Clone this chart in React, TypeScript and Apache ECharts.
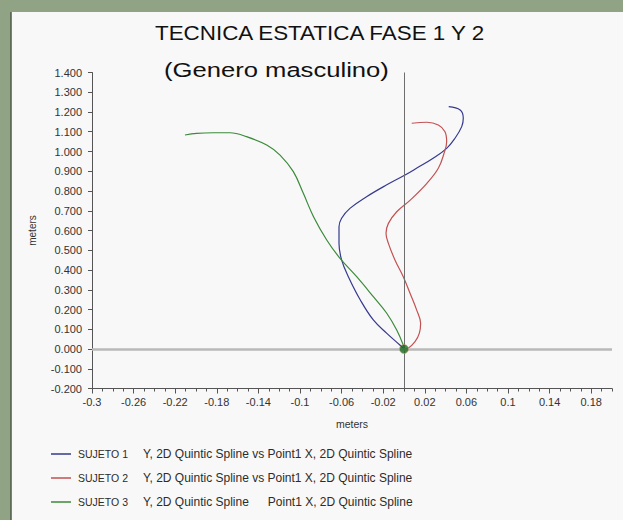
import React, { useEffect, useRef } from 'react';
import * as echarts from 'echarts';

const TITLE = 'TECNICA ESTATICA FASE 1 Y 2';
const SUBTITLE = '(Genero masculino)';
const AXIS_NAME = 'meters';

const seriesNames = ['SUJETO 1', 'SUJETO 2', 'SUJETO 3'];
const seriesColors = ['#363a8e', '#c25252', '#3b8a3b'];
const legendDesc = [
  'Y, 2D Quintic Spline vs Point1 X, 2D Quintic Spline',
  'Y, 2D Quintic Spline vs Point1 X, 2D Quintic Spline',
];
const legendDesc3a = 'Y, 2D Quintic Spline';
const legendDesc3b = 'Point1 X, 2D Quintic Spline';

const sujeto1X = [0.043, 0.054, 0.057, 0.0555, 0.049, 0.041, 0.028, 0.012, 0.001, -0.017, -0.036, -0.052, -0.06, -0.0625, -0.0625, -0.06, -0.0535, -0.042, -0.0295, -0.0165, -0.004, 0];
const sujeto1Y = [1.227, 1.21, 1.168, 1.126, 1.067, 1.016, 0.966, 0.915, 0.881, 0.83, 0.771, 0.712, 0.662, 0.619, 0.535, 0.451, 0.366, 0.248, 0.147, 0.079, 0.02, 0];

const sujeto2X = [0.0074, 0.022, 0.033, 0.0394, 0.041, 0.0385, 0.033, 0.022, 0.006, -0.007, -0.015, -0.0173, -0.015, -0.0087, -0.0007, 0.0058, 0.0122, 0.016, 0.0147, 0.0106, 0.004, 0];
const sujeto2Y = [1.143, 1.148, 1.134, 1.1, 1.05, 0.991, 0.915, 0.839, 0.754, 0.695, 0.636, 0.586, 0.535, 0.451, 0.366, 0.282, 0.197, 0.13, 0.079, 0.037, 0.004, 0];

const sujeto3X = [-0.2106, -0.1993, -0.1833, -0.1673, -0.1513, -0.132, -0.1192, -0.1064, -0.0968, -0.087, -0.0743, -0.0615, -0.0455, -0.0295, -0.0166, -0.007, -0.0007, 0];
const sujeto3Y = [1.0835, 1.092, 1.095, 1.095, 1.075, 1.033, 0.982, 0.898, 0.788, 0.67, 0.552, 0.459, 0.366, 0.265, 0.181, 0.096, 0.02, 0];

const originPoint = [0, 0];

const xTickLabels = [-0.3, -0.26, -0.22, -0.18, -0.14, -0.1, -0.06, -0.02, 0.02, 0.06, 0.1, 0.14, 0.18];
const xMin = -0.3;
const xMax = 0.2;
const xMinorStep = 0.01;
const yMin = -0.2;
const yMax = 1.4;
const yStep = 0.1;

const FONT = '"Liberation Sans", Arial, sans-serif';

function pairs(xs: number[], ys: number[]) {
  return xs.map((x, i) => [x, ys[i]]);
}

export default function App() {
  const ref = useRef<HTMLDivElement>(null);

  useEffect(() => {
    document.body.style.margin = '0';
    const chart = echarts.init(ref.current!, null, { renderer: 'svg' });
    const xs = [sujeto1X, sujeto2X, sujeto3X];
    const ys = [sujeto1Y, sujeto2Y, sujeto3Y];

    const curveSeries = seriesNames.map((name, i) => ({
      name,
      type: 'line',
      data: pairs(xs[i], ys[i]),
      smooth: 0.4,
      showSymbol: false,
      symbol: 'none',
      z: 3,
      lineStyle: { color: seriesColors[i], width: 1.2 },
      itemStyle: { color: seriesColors[i] },
    }));

    const option: any = {
      animation: false,
      backgroundColor: '#90a385',
      textStyle: { fontFamily: FONT },
      grid: { left: 92, top: 72.5, width: 520, height: 316, containLabel: false },
      graphic: [
        {
          type: 'rect',
          z: -100,
          silent: true,
          shape: { x: 11, y: 12, width: 612, height: 508 },
          style: { fill: '#f8f8f8' },
        },
        {
          type: 'line',
          z: -99,
          silent: true,
          shape: { x1: 11, y1: 12, x2: 11, y2: 520 },
          style: { stroke: '#4d5a48', lineWidth: 1.5 },
        },
        {
          type: 'text',
          x: 155,
          y: 33,
          scaleX: 1.12,
          silent: true,
          style: {
            text: TITLE,
            font: '20px ' + FONT,
            fill: '#111',
            align: 'left',
            textAlign: 'left',
            verticalAlign: 'middle',
            textVerticalAlign: 'middle',
          },
        },
        {
          type: 'text',
          x: 164,
          y: 70,
          scaleX: 1.25,
          silent: true,
          style: {
            text: SUBTITLE,
            font: '20.5px ' + FONT,
            fill: '#111',
            align: 'left',
            textAlign: 'left',
            verticalAlign: 'middle',
            textVerticalAlign: 'middle',
          },
        },
      ],
      legend: {
        orient: 'vertical',
        left: 46,
        top: 443,
        icon: 'rect',
        itemWidth: 20,
        itemHeight: 1.5,
        itemGap: 12,
        selectedMode: false,
        data: seriesNames,
        formatter: (name: string) => {
          const i = seriesNames.indexOf(name);
          if (i === 2) return `{a|${name}}{b|${legendDesc3a}}{c|${legendDesc3b}}`;
          return `{a|${name}}{b|${legendDesc[i]}}`;
        },
        textStyle: {
          fontFamily: FONT,
          color: '#2c2c2c',
          rich: {
            a: { fontSize: 10.5, width: 65, padding: [0, 0, 0, 2], lineHeight: 14, color: '#2c2c2c', fontFamily: FONT },
            b: { fontSize: 12, lineHeight: 14, color: '#2c2c2c', fontFamily: FONT },
            c: { fontSize: 12, lineHeight: 14, padding: [0, 0, 0, 19], color: '#2c2c2c', fontFamily: FONT },
          },
        },
      },
      xAxis: [
        {
          type: 'value',
          min: xMin,
          max: xMax,
          interval: xMinorStep,
          position: 'bottom',
          name: AXIS_NAME,
          nameLocation: 'middle',
          nameGap: 30,
          nameTextStyle: { fontSize: 10.5, color: '#333', fontFamily: FONT },
          axisLine: { show: true, onZero: false, lineStyle: { color: '#555', width: 1 } },
          axisTick: { show: true, length: 3, lineStyle: { color: '#555' } },
          axisLabel: { show: false },
          splitLine: { show: false },
        },
        {
          type: 'value',
          min: xMin,
          max: xMax,
          position: 'bottom',
          axisLine: { show: false, onZero: false },
          axisTick: { show: true, length: 5, customValues: xTickLabels, lineStyle: { color: '#555' } },
          axisLabel: {
            show: true,
            customValues: xTickLabels,
            margin: 8,
            fontSize: 11,
            color: '#333',
            fontFamily: FONT,
            formatter: (v: number) => String(+v.toFixed(2)),
          },
          splitLine: { show: false },
        },
      ],
      yAxis: {
        type: 'value',
        min: yMin,
        max: yMax,
        interval: yStep,
        name: AXIS_NAME,
        nameLocation: 'middle',
        nameGap: 55,
        nameTextStyle: { fontSize: 10, color: '#333', fontFamily: FONT },
        axisLine: { show: true, onZero: false, lineStyle: { color: '#555', width: 1 } },
        axisTick: { show: true, length: 4, lineStyle: { color: '#555' } },
        axisLabel: {
          margin: 10,
          fontSize: 11,
          color: '#333',
          fontFamily: FONT,
          formatter: (v: number) => v.toFixed(3),
        },
        splitLine: { show: false },
      },
      series: [
        {
          name: 'ref-lines',
          type: 'line',
          data: [],
          z: 1,
          silent: true,
          markLine: {
            silent: true,
            symbol: ['none', 'none'],
            label: { show: false },
            data: [
              { xAxis: 0, lineStyle: { color: '#6e6e6e', width: 1, type: 'solid' } },
              { yAxis: 0, lineStyle: { color: '#b9b9b9', width: 2.5, type: 'solid' } },
            ],
          },
        },
        ...curveSeries,
        {
          name: 'origin',
          type: 'scatter',
          data: [originPoint],
          symbolSize: 9,
          z: 5,
          itemStyle: { color: '#1d6a20', borderColor: '#d9a27a', borderWidth: 0.6 },
        },
      ],
    };
    chart.setOption(option);
    return () => chart.dispose();
  }, []);

  return <div ref={ref} style={{ width: 623, height: 520 }} />;
}
